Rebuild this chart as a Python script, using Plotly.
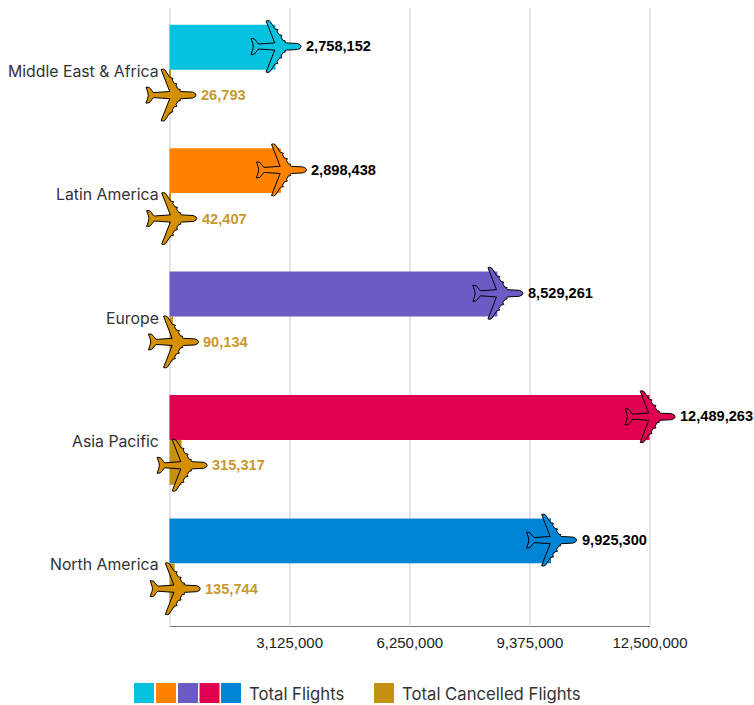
import plotly.graph_objects as go

categories = ["Middle East & Africa", "Latin America", "Europe", "Asia Pacific", "North America"]
total_flights = [2758152, 2898438, 8529261, 12489263, 9925300]
total_cancelled = [26793, 42407, 90134, 315317, 135744]
flight_colors = ["#05C3DE", "#FF8200", "#6A5BC5", "#E1004F", "#0084D5"]
cancel_color = "#C49210"
cancel_plane_color = "#D49000"
cancel_label_color = "#C9992D"
tick_values = [3125000, 6250000, 9375000, 12500000]
tick_labels = ["3,125,000", "6,250,000", "9,375,000", "12,500,000"]
axis_max = 12500000
legend_flights = "Total Flights"
legend_cancelled = "Total Cancelled Flights"

UI_FONT = "Inter, 'Open Sans', sans-serif"
NUM_FONT = "'Liberation Sans', Arial, sans-serif"

# plane outline in icon pixels, centred on the nose-to-tail midpoint (top half, nose to tail)
HALF_PLANE = [
    (25.5, 0), (24.8, 1.6), (22, 3), (10.5, 3.6), (9.3, 4.4), (9.8, 5.6), (7.6, 6), (5.5, 9.4),
    (6.4, 11.2), (3.6, 11.8), (1.6, 15), (2.4, 16.8), (-0.4, 17.4), (-5.6, 25.2), (-7.4, 26), (-9.4, 25.6),
    (-0.8, 3.6), (-17, 2.5), (-21.2, 7.6), (-24.5, 8), (-22.8, 3), (-22.2, 0),
]


def plane_path(dy):
    pts = HALF_PLANE + [(x, -y) for x, y in reversed(HALF_PLANE[1:-1])]
    return "M" + " L".join(f"{x},{y + dy}" for x, y in pts) + " Z"


# page geometry: the plot spans the page width so the planes are not clipped at the axis ends
W, H = 754, 705
T, B = 8, 80
ZERO_PX, MAX_PX = 169.5, 650
PH = H - T - B
unit = axis_max / (MAX_PX - ZERO_PX)


def px(x):
    return x / W


def py(y):
    return 1 - (y - T) / PH


fig = go.Figure()
fig.add_bar(y=categories, x=total_flights, orientation="h", marker=dict(color=flight_colors, line_width=0),
            name=legend_flights, showlegend=False, hoverinfo="x+y")
fig.add_bar(y=categories, x=total_cancelled, orientation="h", marker=dict(color=cancel_color, line_width=0),
            name=legend_cancelled, showlegend=False, hoverinfo="x+y")

shapes, annots = [], []
for cat, fl, ca, col in zip(categories, total_flights, total_cancelled, flight_colors):
    annots.append(dict(x=0, y=cat, xref="x", yref="y", xanchor="right", yanchor="middle", xshift=-9, yshift=-1.5,
                       showarrow=False, text=cat, font=dict(family=UI_FONT, size=15.8, color="#333333")))
    for val, fill, dy, txtcol, yoff in [
        (fl, col, 23.2, "#000000", -23.5),
        (ca, cancel_plane_color, -25.4, cancel_label_color, 25.5),
    ]:
        shapes.append(dict(type="path", xref="x", yref="y", xsizemode="pixel", ysizemode="pixel",
                           xanchor=val, yanchor=cat, path=plane_path(dy), fillcolor=fill,
                           line=dict(color="#000000", width=1), layer="above"))
        annots.append(dict(x=val, y=cat, xref="x", yref="y", xanchor="left", yanchor="middle",
                           xshift=28.5, yshift=-yoff, showarrow=False, text=f"<b>{val:,}</b>",
                           font=dict(family=NUM_FONT, size=14.6, color=txtcol)))

# x-axis line, ending at the last tick
shapes.append(dict(type="line", xref="x", yref="paper", x0=0, x1=axis_max, y0=py(626.5), y1=py(626.5),
                   line=dict(color="#6F7F78", width=1)))

# legend
for x0, c in zip([134, 156, 178, 199.5, 221], flight_colors):
    shapes.append(dict(type="rect", xref="paper", yref="paper", x0=px(x0), x1=px(x0 + 20), y0=py(703), y1=py(683),
                       fillcolor=c, line_width=0))
shapes.append(dict(type="rect", xref="paper", yref="paper", x0=px(374), x1=px(394), y0=py(703), y1=py(683),
                   fillcolor=cancel_color, line_width=0))
for x0, t in [(246.5, legend_flights), (400, legend_cancelled)]:
    annots.append(dict(x=px(x0), y=py(694), xref="paper", yref="paper", xanchor="left", yanchor="middle",
                       showarrow=False, text=t, font=dict(family=UI_FONT, size=16.7, color="#333333")))

fig.update_layout(
    width=W, height=H, margin=dict(l=0, r=0, t=T, b=B, pad=0, autoexpand=False),
    paper_bgcolor="white", plot_bgcolor="white", barmode="group", bargap=0.272, bargroupgap=0,
    shapes=shapes, annotations=annots, showlegend=False,
)
fig.update_xaxes(range=[-ZERO_PX * unit, (W - ZERO_PX) * unit], tickvals=tick_values, ticktext=tick_labels,
                 showgrid=True, gridcolor="#E6E6E6", gridwidth=1.5, zeroline=True, zerolinecolor="#E6E6E6",
                 zerolinewidth=1.5, showline=False, ticks="", ticklabelstandoff=7,
                 tickfont=dict(family=NUM_FONT, size=15, color="#222222"))
fig.update_yaxes(categoryorder="array", categoryarray=categories, autorange="reversed", showgrid=False,
                 zeroline=False, showline=False, ticks="", showticklabels=False)

fig.write_html("out.html", config=dict(displayModeBar=False),
               post_script="document.body.style.margin='0';document.body.style.overflow='hidden';")
